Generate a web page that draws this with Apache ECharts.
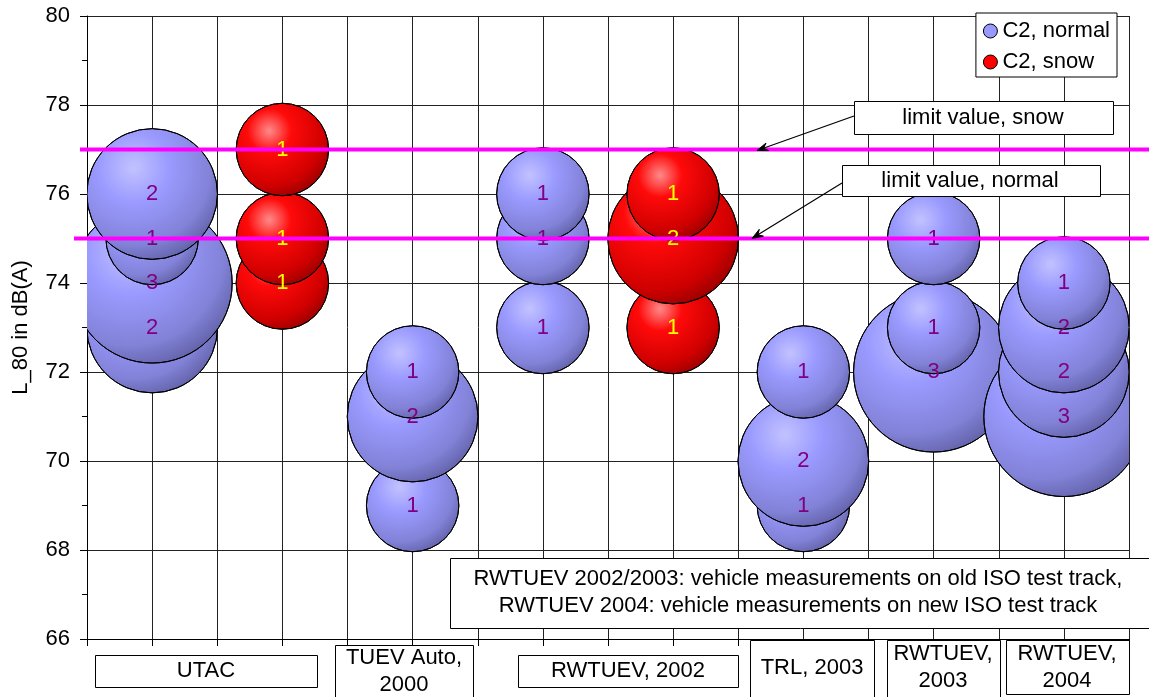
<!DOCTYPE html>
<html><head><meta charset="utf-8">
<script src="https://cdn.jsdelivr.net/npm/echarts@6/dist/echarts.min.js"></script>
<style>html,body{margin:0;padding:0;background:#fff}#c{width:1149px;height:697px}</style>
</head><body><div id="c"></div>
<script>
// ---- data ----
const normalX = [1, 1, 1, 1, 5, 5, 5, 7, 7, 7, 11, 11, 11, 13, 13, 13, 15, 15, 15, 15];
const normalY = [73, 74, 75, 76, 69, 71, 72, 73, 75, 76, 69, 70, 72, 72, 73, 75, 71, 72, 73, 74];
const normalN = [2, 3, 1, 2, 1, 2, 1, 1, 1, 1, 1, 2, 1, 3, 1, 1, 3, 2, 2, 1];
const snowX = [3, 3, 3, 9, 9, 9];
const snowY = [74, 75, 77, 73, 75, 76];
const snowN = [1, 1, 1, 1, 2, 1];
const limitValues = [77, 75];
const limitLabels = ['limit value, snow', 'limit value, normal'];
const seriesNames = ['C2, normal', 'C2, snow'];
const categoryLabels = ['UTAC', 'TUEV Auto,\n2000', 'RWTUEV, 2002', 'TRL, 2003', 'RWTUEV,\n2003', 'RWTUEV,\n2004'];
const noteText = 'RWTUEV 2002/2003: vehicle measurements on old ISO test track,\nRWTUEV 2004: vehicle measurements on new ISO test track';
const yName = 'L_80 in dB(A)';

const FONT = '"Liberation Sans", Arial, sans-serif';
const maxCount = Math.max(...normalN, ...snowN);

function bubbleSeries(name, xs, ys, ns, stops, labelColor) {
  return {
    type: 'custom', name, clip: true, z: 2,
    data: xs.map((x, i) => [x, ys[i], ns[i]]),
    encode: { x: 0, y: 1 },
    renderItem(params, api) {
      const p = api.coord([api.value(0), api.value(1)]);
      const cs = params.coordSys;
      const rMax = Math.min(cs.width, cs.height) * 0.257 / 2;
      const r = rMax * Math.sqrt(api.value(2) / maxCount);
      return {
        type: 'group', children: [
          { type: 'circle', z2: 0, shape: { cx: p[0], cy: p[1], r },
            style: { fill: { type: 'radial', x: 0.36, y: 0.3, r: 0.78, colorStops: stops }, stroke: '#000', lineWidth: 1 } },
          { type: 'text', z2: 50, style: { text: String(api.value(2)), x: p[0], y: p[1], align: 'center', verticalAlign: 'middle',
            fill: labelColor, fontSize: 22, fontFamily: FONT } }
        ]
      };
    }
  };
}

const blueStops = [{ offset: 0, color: '#C2C2FF' }, { offset: 0.35, color: '#9A9AFF' }, { offset: 0.75, color: '#8282D8' }, { offset: 1, color: '#5C5CA0' }];
const redStops = [{ offset: 0, color: '#FF8A8A' }, { offset: 0.3, color: '#FF0A0A' }, { offset: 0.75, color: '#D00000' }, { offset: 1, color: '#900000' }];

const chart = echarts.init(document.getElementById('c'));
chart.setOption({
  animation: false,
  backgroundColor: '#fff',
  grid: { left: 87, right: 20, top: 16, bottom: 58 },
  xAxis: {
    type: 'value', min: 0, max: 16, interval: 1,
    axisLine: { lineStyle: { color: '#000', width: 1 } },
    axisTick: { show: true, length: 7, lineStyle: { color: '#000' } },
    axisLabel: { show: false },
    splitLine: { show: true, lineStyle: { color: '#222', width: 1 } }
  },
  yAxis: {
    type: 'value', min: 66, max: 80, interval: 2,
    name: yName, nameLocation: 'middle', nameRotate: 90, nameGap: 55,
    nameTextStyle: { fontSize: 22, fontFamily: FONT, color: '#000' },
    axisLine: { show: true, lineStyle: { color: '#000', width: 1 } },
    axisTick: { show: true, length: 7, lineStyle: { color: '#000' } },
    minorTick: { show: true, splitNumber: 2, length: 5, lineStyle: { color: '#000' } },
    axisLabel: { fontSize: 22, fontFamily: FONT, color: '#000', margin: 17 },
    splitLine: { show: true, lineStyle: { color: '#222', width: 1 } }
  },
  legend: {
    orient: 'vertical', right: 32, top: 13, padding: [7, 7, 4, 7], itemGap: 9,
    itemWidth: 14, itemHeight: 14, icon: 'circle',
    backgroundColor: '#fff', borderColor: '#000', borderWidth: 1,
    textStyle: { fontSize: 22, fontFamily: FONT, color: '#000', lineHeight: 22 },
    data: [
      { name: seriesNames[0], itemStyle: { color: '#9999FF', borderColor: '#000', borderWidth: 1 } },
      { name: seriesNames[1], itemStyle: { color: '#FF0000', borderColor: '#000', borderWidth: 1 } }
    ]
  },
  series: [
    bubbleSeries(seriesNames[0], normalX, normalY, normalN, blueStops, '#800080'),
    bubbleSeries(seriesNames[1], snowX, snowY, snowN, redStops, '#FFFF00')
  ]
});

// ---- annotations ----
function box(x, y, w, h, text, cx, cy, lh) {
  return { type: 'group', z: 100, children: [
    { type: 'rect', shape: { x: x + 0.5, y: y + 0.5, width: w, height: h }, style: { fill: '#fff', stroke: '#000', lineWidth: 1 }, z: 100 },
    { type: 'text', style: { text, x: cx, y: cy, align: 'center', verticalAlign: 'middle', fill: '#000',
      fontSize: 22, fontFamily: FONT, lineHeight: lh || 27 }, z: 101 }
  ] };
}
function arrow(fx, fy, tx, ty) {
  const dx = tx - fx, dy = ty - fy, L = Math.hypot(dx, dy);
  const ux = dx / L, uy = dy / L, nx = -uy, ny = ux;
  const hl = 11, hw = 4;
  return { type: 'group', z: 102, children: [
    { type: 'line', shape: { x1: fx, y1: fy, x2: tx - ux * 6, y2: ty - uy * 6 }, style: { stroke: '#000', lineWidth: 1.2 }, z: 102 },
    { type: 'polygon', shape: { points: [[tx, ty], [tx - ux * hl + nx * hw, ty - uy * hl + ny * hw], [tx - ux * 7, ty - uy * 7], [tx - ux * hl - nx * hw, ty - uy * hl - ny * hw]] },
      style: { fill: '#000', stroke: '#000', lineWidth: 1 }, z: 102 }
  ] };
}

const yS = chart.convertToPixel({ yAxisIndex: 0 }, limitValues[0]);
const yN = chart.convertToPixel({ yAxisIndex: 0 }, limitValues[1]);
const graphics = [
  { type: 'line', z: 90, shape: { x1: 80, y1: yS, x2: 1149, y2: yS }, style: { stroke: '#FF00FF', lineWidth: 4 } },
  { type: 'line', z: 90, shape: { x1: 74, y1: yN, x2: 1149, y2: yN }, style: { stroke: '#FF00FF', lineWidth: 4 } },
  box(854, 101, 259, 33, limitLabels[0], 983, 118),
  box(842, 165, 258, 31, limitLabels[1], 970, 181),
  arrow(854, 116, 757, yS + 1),
  arrow(842, 183, 752, yN),
  box(450, 558, 720, 70, noteText, 798, 592),
  box(95, 655, 222, 32, categoryLabels[0], 206, 671),
  box(335, 645, 138, 70, categoryLabels[1], 404, 671),
  box(518, 655, 220, 32, categoryLabels[2], 628, 671),
  box(750, 640, 124, 70, categoryLabels[3], 812, 668),
  box(887, 640, 113, 70, categoryLabels[4], 943, 667),
  box(1006, 640, 123, 54, categoryLabels[5], 1067, 667)
];
chart.setOption({ graphic: graphics });
</script></body></html>
